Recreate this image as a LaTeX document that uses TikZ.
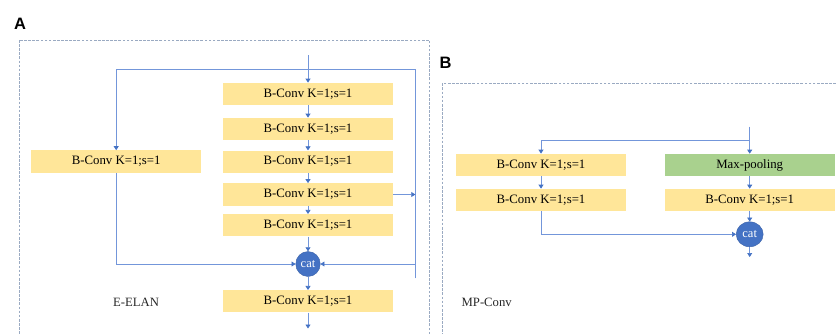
\documentclass[tikz,border=0pt]{standalone}
\usepackage{fontspec}
\setmainfont{Liberation Serif}
\newfontfamily\labelfont{Liberation Sans}
\usetikzlibrary{arrows.meta,shapes.geometric}
\definecolor{boxyellow}{HTML}{FFE699}
\definecolor{boxgreen}{HTML}{A9D18E}
\definecolor{linec}{HTML}{7396DA}
\definecolor{tipc}{HTML}{4472C4}
\definecolor{catc}{HTML}{4472C4}
\definecolor{dashc}{HTML}{9AAAC2}
\tikzset{
  blk/.style={fill=boxyellow, minimum width=170.4pt, minimum height=22.3pt, inner sep=0pt, font=\fontsize{12.8}{14}\selectfont},
  gblk/.style={blk, fill=boxgreen},
  catnode/.style={ellipse, fill=catc, draw=catc!85!black, line width=0.4pt, minimum height=25pt, inner sep=0pt, text=white, font=\fontsize{12.5}{14}\selectfont},
  wire/.style={draw=linec, line width=0.7pt},
  arr/.style={wire, -{Triangle[length=4pt,width=5pt,color=tipc]}},
  frame/.style={draw=dashc, line width=0.7pt, dash pattern=on 2.7pt off 1.4pt},
  panellbl/.style={font=\labelfont\bfseries\fontsize{16.5}{18}\selectfont},
  txt/.style={font=\fontsize{12.7}{14}\selectfont, text=black!85}
}
\begin{document}
\begin{tikzpicture}[x=1pt,y=-1pt]
\useasboundingbox (0,0) rectangle (837,333);
% frames
\draw[frame] (19.5,40) rectangle (429.5,345);
\draw[frame] (442.7,83.3) rectangle (845,345);
\node[panellbl] (lblA) at (20,24) {A};
\node[panellbl] (lblB) at (445.5,62.5) {B};
% ---- Panel A ----
\node[blk] (a1) at (308,94) {B-Conv K=1;s=1};
\node[blk] (a2) at (308,129) {B-Conv K=1;s=1};
\node[blk] (a3) at (308,161.7) {B-Conv K=1;s=1};
\node[blk] (a4) at (308,194.5) {B-Conv K=1;s=1};
\node[blk] (a5) at (308,225.3) {B-Conv K=1;s=1};
\node[blk] (a6) at (308,301.3) {B-Conv K=1;s=1};
\node[blk] (l1) at (116.2,161.5) {B-Conv K=1;s=1};
\node[catnode, minimum width=24.5pt] (catA) at (308,264) {cat};
\node[txt] (elan) at (136,302.3) {E-ELAN};
\coordinate (inA) at (308,55);
\coordinate (fbL) at (116.2,69.3);
\coordinate (fbR) at (415.3,69.3);
\coordinate (fbB) at (415.3,278.3);
\coordinate (outA) at (308,328.5);
\draw[arr] (inA) -- (a1);
\draw[arr] (a1) -- (a2);
\draw[arr] (a2) -- (a3);
\draw[arr] (a3) -- (a4);
\draw[arr] (a4) -- (a5);
\draw[arr] (a5) -- (catA);
\draw[arr] (catA) -- (a6);
\draw[arr] (a6) -- (outA);
\draw[wire] (fbB) -- (fbR) -- (fbL);
\draw[arr] (fbL) -- (l1);
\draw[arr] (a4.east) -- (a4.east -| fbR);
\draw[arr] (l1.south) |- (catA.west);
\draw[arr] (fbR |- catA) -- (catA.east);
% ---- Panel B ----
\node[blk] (b1) at (541,165) {B-Conv K=1;s=1};
\node[blk] (b2) at (541,200) {B-Conv K=1;s=1};
\node[gblk] (mp) at (749.7,165) {Max-pooling};
\node[blk] (b3) at (749.7,200) {B-Conv K=1;s=1};
\node[catnode, minimum width=27pt] (catB) at (749.7,234.3) {cat};
\node[txt] (mpc) at (486.7,302.3) {MP-Conv};
\coordinate (inB) at (749.7,126.7);
\coordinate (splitB) at (749.7,140);
\coordinate (outB) at (749.7,257);
\draw[arr] (inB) -- (mp);
\draw[arr] (splitB) -| (b1.north);
\draw[arr] (b1) -- (b2);
\draw[arr] (mp) -- (b3);
\draw[arr] (b3) -- (catB);
\draw[arr] (b2.south) |- (catB.west);
\draw[arr] (catB) -- (outB);
\end{tikzpicture}
\end{document}
